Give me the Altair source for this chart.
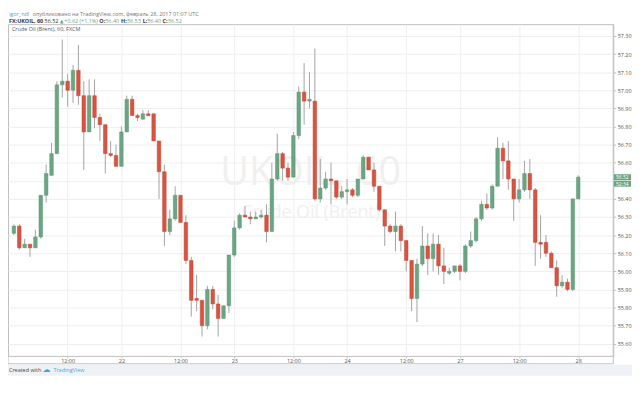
import altair as alt
import pandas as pd

# ---------------- data (hourly candles, UKOIL) ----------------
opens = [56.21, 56.25, 56.13, 56.15, 56.13, 56.19, 56.42, 56.53, 56.65, 57.03,
         57.05, 57.00, 57.11, 56.97, 56.77, 56.97, 56.85, 56.81, 56.65, 56.64,
         56.58, 56.77, 56.95, 56.86, 56.84, 56.87, 56.87, 56.72, 56.55, 56.22,
         56.29, 56.42, 56.27, 56.06, 55.85, 55.84, 55.70, 55.90, 55.82, 55.74,
         55.81, 56.09, 56.24, 56.31, 56.30, 56.29, 56.30, 56.31, 56.22, 56.51,
         56.65, 56.57, 56.52, 56.75, 56.99, 56.94, 56.94, 56.40, 56.46, 56.51,
         56.50, 56.41, 56.44, 56.45, 56.42, 56.51, 56.63, 56.56, 56.47, 56.34,
         56.25, 56.22, 56.25, 56.17, 56.06, 55.85, 56.04, 56.14, 56.07, 56.15,
         56.03, 55.99, 56.00, 56.03, 56.00, 56.14, 56.17, 56.29, 56.37, 56.35,
         56.47, 56.68, 56.61, 56.51, 56.40, 56.45, 56.54, 56.45, 56.16, 56.16,
         56.10, 56.02, 55.92, 55.94, 55.90, 56.40]
closes = [56.25, 56.13, 56.15, 56.13, 56.19, 56.42, 56.54, 56.65, 57.03, 57.05,
          57.00, 57.11, 56.97, 56.77, 56.97, 56.85, 56.81, 56.65, 56.64, 56.58,
          56.77, 56.95, 56.86, 56.85, 56.87, 56.86, 56.72, 56.55, 56.22, 56.29,
          56.42, 56.27, 56.06, 55.84, 55.84, 55.70, 55.90, 55.82, 55.74, 55.81,
          56.09, 56.24, 56.31, 56.30, 56.29, 56.30, 56.31, 56.22, 56.51, 56.65,
          56.57, 56.52, 56.75, 56.99, 56.94, 56.95, 56.40, 56.46, 56.51, 56.50,
          56.41, 56.44, 56.45, 56.42, 56.51, 56.63, 56.56, 56.47, 56.34, 56.25,
          56.22, 56.25, 56.17, 56.06, 55.85, 56.04, 56.14, 56.07, 56.15, 56.03,
          56.00, 56.00, 56.03, 56.00, 56.14, 56.17, 56.29, 56.37, 56.35, 56.47,
          56.68, 56.61, 56.51, 56.40, 56.45, 56.54, 56.45, 56.16, 56.15, 56.10,
          56.02, 55.92, 55.94, 55.90, 56.40, 56.52]
highs = [56.26, 56.26, 56.18, 56.15, 56.23, 56.42, 56.59, 56.71, 57.05, 57.28,
         57.09, 57.14, 57.25, 57.05, 57.06, 57.06, 56.87, 56.81, 56.72, 56.70,
         56.80, 56.97, 56.97, 56.87, 56.89, 56.89, 56.87, 56.72, 56.59, 56.34,
         56.47, 56.42, 56.31, 56.08, 55.98, 55.84, 55.92, 55.92, 55.87, 55.81,
         56.09, 56.28, 56.32, 56.36, 56.33, 56.33, 56.34, 56.37, 56.60, 56.76,
         56.66, 56.60, 56.77, 57.02, 57.15, 57.10, 57.23, 56.62, 56.55, 56.60,
         56.50, 56.47, 56.51, 56.46, 56.51, 56.64, 56.63, 56.60, 56.47, 56.34,
         56.26, 56.33, 56.26, 56.17, 56.06, 56.07, 56.25, 56.21, 56.21, 56.20,
         56.13, 56.02, 56.03, 56.04, 56.15, 56.22, 56.30, 56.39, 56.43, 56.48,
         56.74, 56.71, 56.72, 56.51, 56.51, 56.61, 56.62, 56.46, 56.31, 56.20,
         56.11, 56.06, 55.98, 55.96, 56.40, 56.53]
lows = [56.20, 56.12, 56.13, 56.08, 56.13, 56.18, 56.38, 56.53, 56.65, 56.96,
        56.91, 56.93, 56.92, 56.56, 56.77, 56.79, 56.72, 56.54, 56.63, 56.58,
        56.58, 56.77, 56.86, 56.83, 56.84, 56.86, 56.72, 56.40, 56.14, 56.20,
        56.28, 56.27, 56.04, 55.75, 55.78, 55.64, 55.68, 55.79, 55.64, 55.74,
        55.77, 56.08, 56.23, 56.30, 56.26, 56.29, 56.29, 56.16, 56.22, 56.50,
        56.50, 56.50, 56.52, 56.73, 56.81, 56.90, 56.39, 56.38, 56.45, 56.37,
        56.40, 56.40, 56.37, 56.41, 56.41, 56.51, 56.56, 56.44, 56.33, 56.14,
        56.21, 56.11, 56.11, 56.00, 55.78, 55.72, 56.03, 55.98, 56.00, 55.98,
        55.93, 55.98, 55.99, 55.95, 55.99, 56.13, 56.16, 56.28, 56.34, 56.34,
        56.47, 56.51, 56.45, 56.28, 56.38, 56.44, 56.40, 56.03, 56.07, 56.08,
        56.02, 55.86, 55.91, 55.89, 55.89, 56.40]

tick_idx = [10, 20, 31, 41, 52, 62, 73, 83, 94, 105]
tick_lbl = ["12:00", "22", "12:00", "23", "12:00", "24", "12:00", "27", "12:00", "28"]
price_ticks = [55.60, 55.70, 55.80, 55.90, 56.00, 56.10, 56.20, 56.30, 56.40,
               56.50, 56.60, 56.70, 56.80, 56.90, 57.00, 57.10, 57.20, 57.30]
last_price_label = "56.52"
countdown_label = "52:34"

n = len(opens)
df = pd.DataFrame({"i": list(range(n)), "o": opens, "h": highs, "l": lows, "c": closes})
df["dir"] = ["up" if c >= o else "down" for o, c in zip(opens, closes)]

GREEN = "#6ba583"
RED = "#d75442"
FONT = "Open Sans"
GRID = "#eeeeee"
FRAME = "#bfbfbf"
W, H = 613, 336

xs = alt.Scale(domain=[-0.18, 110.6], nice=False, zero=False)
ys = alt.Scale(domain=[55.533, 57.365], nice=False, zero=False)

label_expr = "''"
for idx, lbl in reversed(list(zip(tick_idx, tick_lbl))):
    label_expr = f"datum.value == {idx} ? '{lbl}' : ({label_expr})"

xaxis = alt.Axis(values=tick_idx, labelExpr=label_expr, grid=True, gridColor=GRID,
                 domain=False, ticks=True, tickSize=2, tickColor=FRAME,
                 labelFontSize=5.5, labelColor="#555555", labelFont=FONT,
                 labelPadding=1, title=None, labelFlush=False, labelOverlap=False)
yaxis = alt.Axis(orient="right", values=price_ticks,
                 labelExpr="datum.value == 56.5 ? '' : format(datum.value, '.2f')",
                 grid=True, gridColor=GRID, domain=False, ticks=True, tickSize=2.5,
                 tickColor=FRAME, labelFontSize=5.5, labelColor="#555555",
                 labelFont=FONT, labelPadding=1.5, title=None, labelFlush=False,
                 labelOverlap=False)

X = alt.X("i:Q", scale=xs, axis=xaxis)


def txt(s, x, y, size=5.5, color="#555555", weight="normal", align="left", font=FONT):
    return alt.Chart(pd.DataFrame({"t": [s]})).mark_text(
        align=align, baseline="middle", fontSize=size, color=color,
        fontWeight=weight, font=font).encode(
        x=alt.value(x), y=alt.value(y), text="t:N")


def rule(x, x2, y, y2, color=FRAME):
    return alt.Chart(pd.DataFrame({"a": [0]})).mark_rule(color=color, strokeWidth=1).encode(
        x=alt.value(x), x2=alt.value(x2), y=alt.value(y), y2=alt.value(y2))


base = alt.Chart(df)

wicks = base.mark_rule(color="#a3a3a3", strokeWidth=1).encode(
    x=X, y=alt.Y("l:Q", scale=ys, axis=yaxis), y2="h:Q")

bodies = base.mark_bar(size=3.6, strokeWidth=0.5).encode(
    x=X, y=alt.Y("o:Q", scale=ys, axis=yaxis), y2="c:Q",
    color=alt.Color("dir:N", scale=alt.Scale(domain=["up", "down"], range=[GREEN, RED]), legend=None),
    stroke=alt.Stroke("dir:N", scale=alt.Scale(domain=["up", "down"], range=["#5a9672", "#c4442f"]), legend=None),
)

last = alt.Chart(df.tail(1))
YC = alt.Y("c:Q", scale=ys, axis=yaxis)
price_box = last.mark_rect(color=GREEN, yOffset=-3.0, y2Offset=3.0).encode(
    x=alt.value(613.5), x2=alt.value(631), y=YC, y2="c:Q")
price_txt = last.mark_text(color="white", fontSize=5, font=FONT, align="center", baseline="middle").encode(
    x=alt.value(622.2), y=YC, text=alt.value(last_price_label))
count_box = last.mark_rect(color=GREEN, yOffset=3.6, y2Offset=9.6).encode(
    x=alt.value(613.5), x2=alt.value(631), y=YC, y2="c:Q")
count_txt = last.mark_text(color="white", fontSize=5, font=FONT, align="center", baseline="middle", dy=6.6).encode(
    x=alt.value(622.2), y=YC, text=alt.value(countdown_label))

layers = [
    txt("UKOIL, 60", 306.5, 151, size=40, color="#f0f0f0", align="center"),
    txt("Crude Oil (Brent)", 306.5, 191, size=18, color="#f0f0f0", align="center"),
    wicks,
    bodies,
    price_box, price_txt, count_box, count_txt,
    # frame pieces
    rule(613, 613, 0, 344),
    rule(0, 0, 336, 344),
    rule(0, 613, 344, 344),
    # footer band
    alt.Chart(pd.DataFrame({"a": [0]})).mark_rect(color="#eef1f6").encode(
        x=alt.value(0), x2=alt.value(632), y=alt.value(345), y2=alt.value(356)),
    txt("Created with", 1, 350.5, size=5.5, color="#444444"),
    txt("\u2601", 35, 350, size=8, color="#3aa6df", font="DejaVu Sans"),
    txt("TradingView", 46, 350.5, size=5.5, color="#4aa9dd"),
    # header
    txt("igor_ndl", 1, -10.5, size=5.5, color="#4f9fd6"),
    txt("опубликовано на TradingView.com, февраль 28, 2017 01:07 UTC", 25, -10.5, size=5.5, color="#777777"),
    txt("FX:UKOIL, 60", 1, -3.5, size=5.5, color="#333333", weight="bold"),
    txt("56.52", 37, -3.5, size=5.5, color="#333333"),
    txt("\u25b2", 52.5, -3.5, size=5, color=GREEN, font="DejaVu Sans"),
    txt("+0.62 (+1.1%)", 57, -3.5, size=5.5, color=GREEN),
    txt("O:", 92.5, -3.5, size=5.5, color="#333333", weight="bold"),
    txt("56.40", 98.5, -3.5, size=5.5, color=GREEN),
    txt("H:", 114.5, -3.5, size=5.5, color="#333333", weight="bold"),
    txt("56.53", 120.5, -3.5, size=5.5, color=GREEN),
    txt("L:", 136.5, -3.5, size=5.5, color="#333333", weight="bold"),
    txt("56.40", 141, -3.5, size=5.5, color=GREEN),
    txt("C:", 156.5, -3.5, size=5.5, color="#333333", weight="bold"),
    txt("56.52", 162, -3.5, size=5.5, color=GREEN),
    # pane title
    txt("Crude Oil (Brent), 60, FXCM", 4, 5, size=5.5, color="#555555"),
]

chart = alt.layer(*layers).properties(
    width=W, height=H,
    padding={"left": 0, "top": 14, "right": 19, "bottom": 20},
    autosize=alt.AutoSizeParams(type="none"),
    background="white",
).configure_view(stroke=FRAME, strokeWidth=1)

chart.save("out.html", embed_options={"renderer": "svg", "actions": False})
